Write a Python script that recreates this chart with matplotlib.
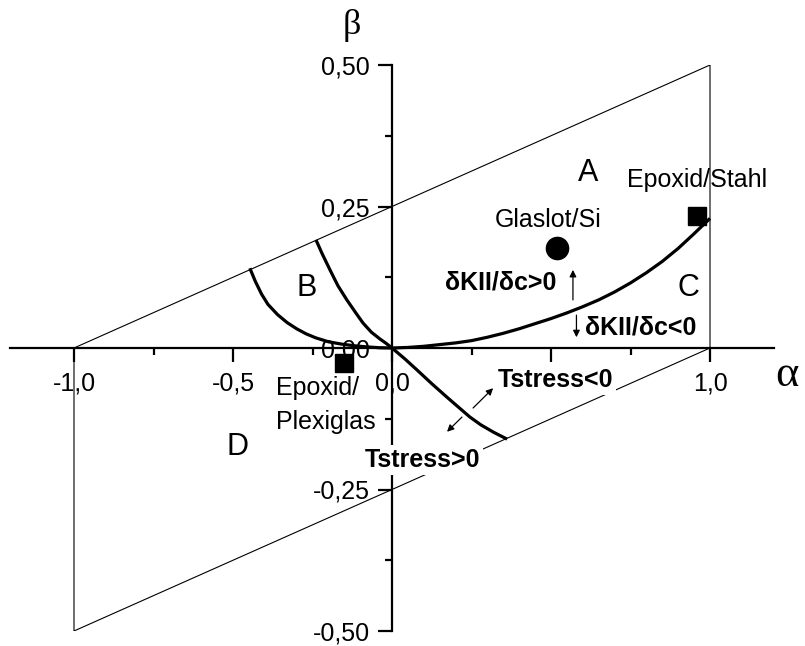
import matplotlib
matplotlib.use('Agg')
import matplotlib.pyplot as plt

plt.rc('font', family='Liberation Sans', size=18)

# Dundurs parallelogram
frame_alpha = [-1.0, 1.0, 1.0, -1.0, -1.0]
frame_beta = [0.0, 0.5, 0.0, -0.5, 0.0]

# dKII/dc = 0, left branch (lower boundary of B)
kii_left_alpha = [-0.447, -0.43, -0.41, -0.39, -0.36, -0.33, -0.30, -0.27,
                  -0.24, -0.20, -0.16, -0.12, -0.08, -0.04, 0.0]
kii_left_beta = [0.141, 0.118, 0.095, 0.077, 0.059, 0.045, 0.034, 0.025,
                 0.018, 0.011, 0.007, 0.004, 0.002, 0.0005, 0.0]

# dKII/dc = 0, right branch
kii_right_alpha = [0.0, 0.05, 0.10, 0.15, 0.20, 0.25, 0.30, 0.35, 0.40, 0.45, 0.50,
                   0.55, 0.60, 0.65, 0.70, 0.75, 0.80, 0.85, 0.90, 0.95, 1.0]
kii_right_beta = [0.0, 0.001, 0.003, 0.006, 0.009, 0.013, 0.019, 0.026, 0.034, 0.043,
                  0.052, 0.062, 0.073, 0.085, 0.099, 0.115, 0.133, 0.153, 0.176,
                  0.202, 0.229]

# T-stress = 0
tstress_alpha = [-0.239, -0.22, -0.195, -0.17, -0.142, -0.115, -0.091, -0.065,
                 -0.038, -0.018, 0.0, 0.04, 0.079, 0.125, 0.173, 0.21, 0.245,
                 0.28, 0.32, 0.362]
tstress_beta = [0.191, 0.167, 0.138, 0.110, 0.085, 0.063, 0.044, 0.028,
                0.016, 0.008, 0.0, -0.019, -0.039, -0.063, -0.087, -0.105, -0.122,
                -0.136, -0.149, -0.161]

# material pairs
square_alpha = [0.96, -0.15]
square_beta = [0.234, -0.026]
circle_alpha = [0.518]
circle_beta = [0.176]

x_ticks = [-1.0, -0.5, 0.0, 0.5, 1.0]
x_tick_labels = ['-1,0', '-0,5', '0,0', '', '1,0']
x_minor = [-0.75, -0.25, 0.25, 0.75]
y_ticks = [-0.5, -0.25, 0.0, 0.25, 0.5]
y_tick_labels = ['-0,50', '-0,25', '0,00', '0,25', '0,50']
y_minor = [-0.375, -0.125, 0.125, 0.375]

fig = plt.figure(figsize=(8.05, 6.46), dpi=100)
ax = fig.add_axes([10.4 / 805, 15 / 646, 763.2 / 805, 566 / 646])
ax.set_xlim(-1.2, 1.2)
ax.set_ylim(-0.5, 0.5)

for side in ['top', 'right']:
    ax.spines[side].set_visible(False)
for side in ['left', 'bottom']:
    ax.spines[side].set_position(('data', 0))
    ax.spines[side].set_linewidth(1.6)

ax.set_xticks(x_ticks)
ax.set_xticklabels(x_tick_labels)
ax.set_xticks(x_minor, minor=True)
ax.set_yticks(y_ticks)
ax.set_yticklabels(y_tick_labels)
ax.set_yticks(y_minor, minor=True)
ax.tick_params(which='major', length=10, width=1.6, labelsize=18)
ax.tick_params(which='minor', length=5, width=1.6)
ax.tick_params(axis='x', which='major', pad=7)
ax.tick_params(axis='y', which='major', pad=6)

ax.plot(frame_alpha, frame_beta, color='k', lw=0.8)
ax.plot(kii_left_alpha, kii_left_beta, color='k', lw=2.3, solid_capstyle='butt')
ax.plot(kii_right_alpha, kii_right_beta, color='k', lw=2.3, solid_capstyle='butt')
ax.plot(tstress_alpha, tstress_beta, color='k', lw=2.3, solid_capstyle='butt')

ax.plot(square_alpha, square_beta, 's', color='k', ms=13.5, zorder=4)
ax.plot(circle_alpha, circle_beta, 'o', color='k', ms=16, zorder=4)

arrow = dict(arrowstyle='-|>', lw=0.9, color='k', mutation_scale=10,
             shrinkA=0, shrinkB=0)
ax.annotate('', xy=(0.569, 0.138), xytext=(0.569, 0.085), arrowprops=arrow)
ax.annotate('', xy=(0.58, 0.019), xytext=(0.58, 0.058), arrowprops=arrow)
ax.annotate('', xy=(0.318, -0.071), xytext=(0.255, -0.106), arrowprops=arrow)
ax.annotate('', xy=(0.173, -0.148), xytext=(0.22, -0.122), arrowprops=arrow)

for label, a, b in [('A', 0.616, 0.309), ('B', -0.267, 0.106),
                    ('C', 0.931, 0.106), ('D', -0.487, -0.175)]:
    ax.text(a, b, label, fontsize=22, ha='center', va='center')

ax.text(0.739, 0.297, 'Epoxid/Stahl', ha='left', va='center')
ax.text(0.66, 0.226, 'Glaslot/Si', ha='right', va='center')
ax.text(-0.365, -0.071, 'Epoxid/', ha='left', va='center')
ax.text(-0.365, -0.131, 'Plexiglas', ha='left', va='center')

ax.text(0.167, 0.115, 'δKII/δc>0', fontweight='bold', ha='left', va='center')
ax.text(0.607, 0.037, 'δKII/δc<0', fontweight='bold', ha='left', va='center')
white = dict(facecolor='white', edgecolor='none', pad=2)
ax.text(0.333, -0.057, 'Tstress<0', fontweight='bold', ha='left', va='center',
        bbox=white, zorder=5)
ax.text(-0.085, -0.198, 'Tstress>0', fontweight='bold', ha='left', va='center',
        bbox=white, zorder=5)

fig.text(787 / 805, 1 - 375 / 646, 'α', family='Liberation Serif', fontsize=32,
         ha='center', va='center')
fig.text(352 / 805, 1 - 25 / 646, 'β', family='Liberation Serif', fontsize=26,
         ha='center', va='center')

fig.savefig('out.png', dpi=100)
